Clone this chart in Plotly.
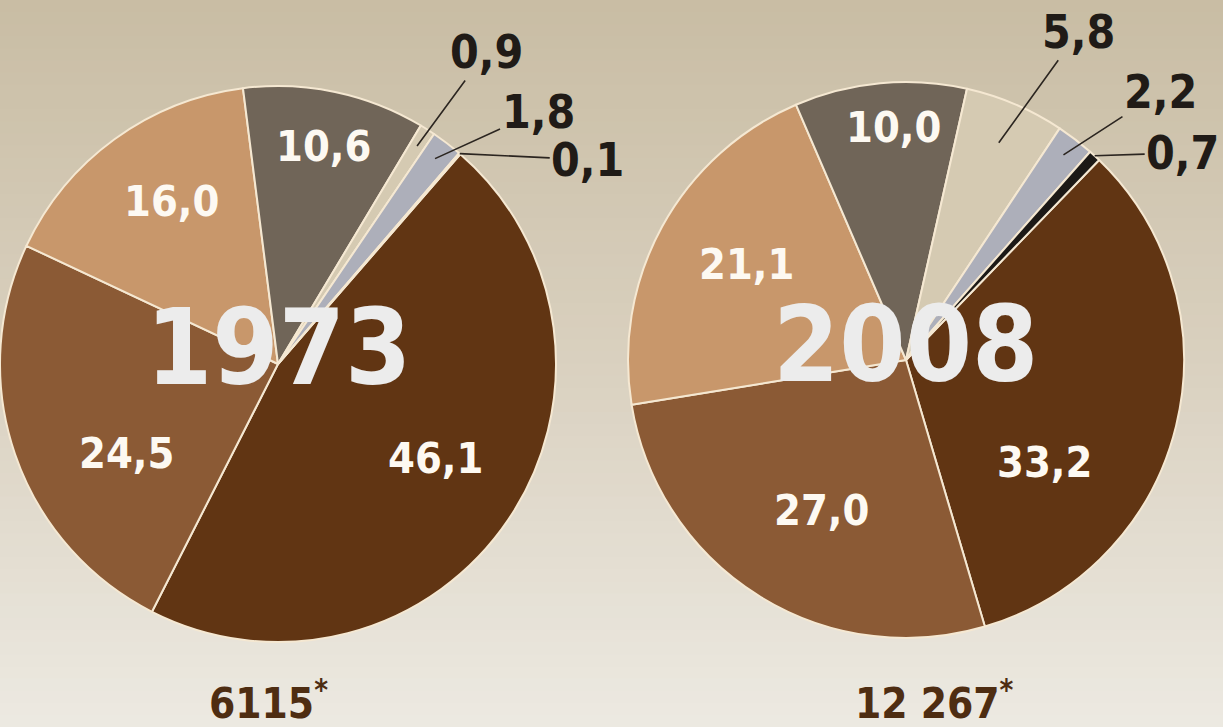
import plotly.graph_objects as go
import math

# ---------------- data ----------------
years = ["1973", "2008"]
totals = ["6115", "12 267"]
categories = ["c1", "c2", "c3", "c4", "c5", "c6", "c7"]
values_1973 = [46.1, 24.5, 16.0, 10.6, 0.9, 1.8, 0.1]
values_2008 = [33.2, 27.0, 21.1, 10.0, 5.8, 2.2, 0.7]

# ---------------- style ----------------
W, H = 1223, 727
colors = ["#613513", "#8b5a35", "#c8976b", "#706558", "#d5cab2", "#adafba", "#1c1916"]
FONT = "DejaVu Sans Condensed, DejaVu Sans, Arial Narrow, sans-serif"

# pie geometry in pixels (center x, center y, radius) and start rotation
pies = [
    dict(cx=278, cy=364, r=278, rot=41, vals=values_1973,
         # inside labels: (fraction along slice, radial fraction)
         inside=[(0.48, 0.66), (0.37, 0.63), (0.55, 0.70), (0.5, 0.80)],
         # outside labels: (radial fraction of anchor, ax, ay)
         outside=[(0.93, 69, -94), (0.93, 103, -47), (1.0, 128, 6)],
         total_shift=-10),
    dict(cx=906, cy=360, r=278, rot=44, vals=values_2008,
         inside=[(0.69, 0.62), (0.47, 0.62), (0.53, 0.67), (0.56, 0.84)],
         outside=[(0.85, 80, -111), (0.93, 97, -63), (1.0, 88, -3)],
         total_shift=28),
]


def px_to_paper(px, py):
    return px / W, 1 - py / H


def fmt(v):
    return f"{v:.1f}".replace(".", ",")


fig = go.Figure()

annotations = []
for p, year, tot in zip(pies, years, totals):
    cx, cy, r = p["cx"], p["cy"], p["r"]
    fig.add_trace(go.Pie(
        labels=categories, values=p["vals"], sort=False, direction="clockwise",
        rotation=p["rot"], textinfo="none", hoverinfo="skip",
        marker=dict(colors=colors, line=dict(color="#f5e8d2", width=2)),
        domain=dict(x=[(cx - r) / W, (cx + r) / W], y=[1 - (cy + r) / H, 1 - (cy - r) / H]),
        showlegend=False,
    ))
    total = sum(p["vals"])
    cum = 0.0
    bounds = []
    for v in p["vals"]:
        a0 = p["rot"] + cum / total * 360
        a1 = p["rot"] + (cum + v) / total * 360
        bounds.append((a0, a1))
        cum += v
    # inside labels for the four large slices
    for i, (along, rf) in enumerate(p["inside"]):
        a0, a1 = bounds[i]
        a = math.radians(a0 + along * (a1 - a0))
        x, y = px_to_paper(cx + rf * r * math.sin(a), cy - rf * r * math.cos(a))
        annotations.append(dict(x=x, y=y, xref="paper", yref="paper",
                                text=f"<b>{fmt(p['vals'][i])}</b>",
                                showarrow=False, font=dict(family=FONT, size=43, color="#fdf9f2"),
                                xanchor="center", yanchor="middle"))
    # outside labels with leader lines for the three small slices
    for j, (rf, ax, ay) in enumerate(p["outside"]):
        i = 4 + j
        a0, a1 = bounds[i]
        a = math.radians((a0 + a1) / 2)
        x, y = px_to_paper(cx + rf * r * math.sin(a), cy - rf * r * math.cos(a))
        annotations.append(dict(x=x, y=y, xref="paper", yref="paper",
                                text=f"<b>{fmt(p['vals'][i])}</b>",
                                showarrow=True, arrowhead=0, arrowwidth=1.6, arrowcolor="#2b2520",
                                ax=ax, ay=ay, standoff=0,
                                font=dict(family=FONT, size=46, color="#201b17")))
    # year in the middle
    x, y = px_to_paper(cx, cy - 16)
    annotations.append(dict(x=x, y=y, xref="paper", yref="paper", text=f"<b>{year}</b>",
                            showarrow=False, font=dict(family=FONT, size=106, color="#ececec"),
                            xanchor="center", yanchor="middle"))
    # total below
    x, y = px_to_paper(cx + p["total_shift"], 700)
    annotations.append(dict(x=x, y=y, xref="paper", yref="paper",
                            text=f"<b>{tot}</b><sup><b>*</b></sup>",
                            showarrow=False, font=dict(family=FONT, size=42, color="#4e2d12"),
                            xanchor="center", yanchor="middle"))

# background vertical gradient (top beige -> bottom light cream)
shapes = []
top = (201, 189, 164)
mid = (218, 209, 192)
bot = (237, 234, 226)
N = 60
for k in range(N):
    t = (k + 0.5) / N
    if t < 0.5:
        u = t / 0.5
        c = tuple(int(top[m] + (mid[m] - top[m]) * u) for m in range(3))
    else:
        u = (t - 0.5) / 0.5
        c = tuple(int(mid[m] + (bot[m] - mid[m]) * u) for m in range(3))
    shapes.append(dict(type="rect", xref="paper", yref="paper", x0=0, x1=1,
                       y0=1 - (k + 1) / N - 0.002, y1=1 - k / N,
                       fillcolor=f"rgb{c}", line=dict(width=0), layer="below"))

fig.update_layout(
    width=W, height=H, margin=dict(l=0, r=0, t=0, b=0),
    paper_bgcolor="#ddd5c5", plot_bgcolor="rgba(0,0,0,0)",
    annotations=annotations, shapes=shapes, showlegend=False,
)

fig.write_html("out.html")
